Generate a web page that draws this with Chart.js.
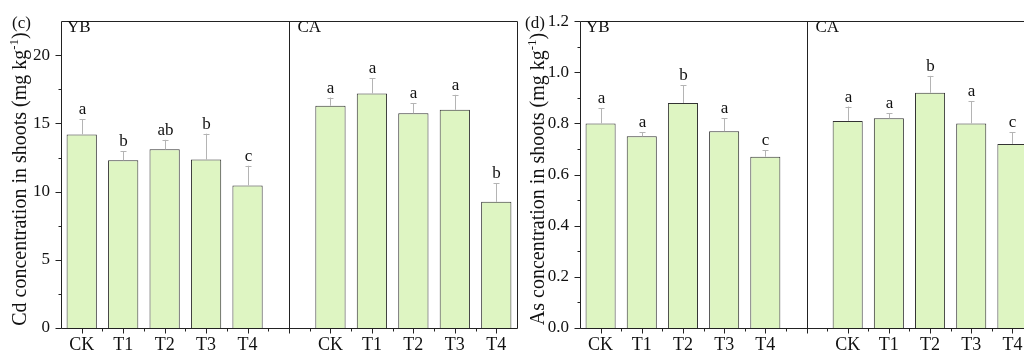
<!DOCTYPE html>
<html>
<head>
<meta charset="utf-8">
<script src="https://cdn.jsdelivr.net/npm/chart.js@4"></script>
<style>
  html, body { margin: 0; padding: 0; background: #fff; overflow: hidden; width: 1024px; height: 354px; }
  #wrapC { position: absolute; left: 0; top: 0; }
  #wrapD { position: absolute; left: 520px; top: 0; }
</style>
</head>
<body>
<div id="wrapC"><canvas id="chartC" width="520" height="354"></canvas></div>
<div id="wrapD"><canvas id="chartD" width="530" height="354"></canvas></div>
<script>
const treatments = ["CK", "T1", "T2", "T3", "T4"];
const groups = ["YB", "CA"];

// (c) Cd in shoots
const cdYB = [14.2, 12.3, 13.1, 12.35, 10.45];
const cdYBErr = [1.1, 0.65, 0.7, 1.9, 1.45];
const cdYBLetters = ["a", "b", "ab", "b", "c"];
const cdCA = [16.3, 17.2, 15.75, 16.0, 9.25];
const cdCAErr = [0.6, 1.1, 0.75, 1.1, 1.35];
const cdCALetters = ["a", "a", "a", "a", "b"];
const cdTicks = [0, 5, 10, 15, 20];

// (d) As in shoots
const asYB = [0.8, 0.75, 0.88, 0.77, 0.67];
const asYBErr = [0.06, 0.015, 0.07, 0.05, 0.025];
const asYBLetters = ["a", "a", "b", "a", "c"];
const asCA = [0.81, 0.82, 0.92, 0.8, 0.72];
const asCAErr = [0.056, 0.02, 0.066, 0.087, 0.045];
const asCALetters = ["a", "a", "b", "a", "c"];
const asTicks = [0, 0.2, 0.4, 0.6, 0.8, 1.0, 1.2];

const FONT = "'Liberation Serif', 'Times New Roman', serif";
Chart.defaults.font.family = FONT;
Chart.defaults.color = "#111";

const labels = [...treatments, "", ...treatments];

const panelPlugin = {
  id: "panel",
  afterDatasetsDraw(chart) {
    const p = chart.options.plugins.panel;
    const ctx = chart.ctx;
    const area = chart.chartArea;
    const xs = chart.scales.x;
    const ys = chart.scales.y;
    const vals = chart.data.datasets[0].data;
    const crisp = (v) => Math.round(v) + 0.5;

    ctx.save();
    // error bars + letters
    ctx.lineWidth = 1;
    ctx.font = "17px " + FONT;
    ctx.textAlign = "center";
    ctx.textBaseline = "alphabetic";
    vals.forEach((v, i) => {
      if (v == null) return;
      const px = crisp(xs.getPixelForValue(i));
      const top = ys.getPixelForValue(v + p.errs[i]);
      const base = ys.getPixelForValue(v);
      ctx.strokeStyle = "#b4b4b4";
      ctx.beginPath();
      ctx.moveTo(px, base);
      ctx.lineTo(px, top);
      ctx.moveTo(px - 3, Math.round(top) + 0.5);
      ctx.lineTo(px + 3, Math.round(top) + 0.5);
      ctx.stroke();
      ctx.fillStyle = "#111";
      ctx.fillText(p.letters[i], px, top - 5);
    });

    // frame and divider
    const divX = crisp(xs.getPixelForValue(5));
    const L = crisp(area.left), R = crisp(area.right), T = crisp(area.top), B = crisp(area.bottom);
    ctx.strokeStyle = "#222";
    ctx.beginPath();
    ctx.moveTo(L, T); ctx.lineTo(R, T); ctx.lineTo(R, B); ctx.lineTo(L, B); ctx.closePath();
    ctx.moveTo(divX, T); ctx.lineTo(divX, B);
    // y ticks
    const tv = p.ticks;
    const step = tv[1] - tv[0];
    tv.forEach((t) => {
      const y = crisp(ys.getPixelForValue(t));
      ctx.moveTo(L - 6, y); ctx.lineTo(L, y);
      const m = t + step / 2;
      if (m < ys.max) {
        const ym = crisp(ys.getPixelForValue(m));
        ctx.moveTo(L - 3, ym); ctx.lineTo(L, ym);
      }
    });
    // x ticks
    for (let i = 0; i < labels.length; i++) {
      const x = crisp(xs.getPixelForValue(i));
      ctx.moveTo(x, B); ctx.lineTo(x, B + 5);
      if (i > 0) {
        const xb = crisp((xs.getPixelForValue(i - 1) + xs.getPixelForValue(i)) / 2);
        ctx.moveTo(xb, B); ctx.lineTo(xb, B + 3);
      }
    }
    ctx.stroke();

    // group labels
    ctx.fillStyle = "#111";
    ctx.textAlign = "left";
    ctx.textBaseline = "middle";
    ctx.font = "17px " + FONT;
    ctx.fillText(groups[0], area.left + 6, 28);
    ctx.fillText(groups[1], divX + 8, 28);
    ctx.fillText(p.tag, p.tagX, 24);

    // y title with superscript
    ctx.translate(p.titleX, 179);
    ctx.rotate(-Math.PI / 2);
    const main = p.title;
    ctx.font = "20px " + FONT;
    const w1 = ctx.measureText(main).width;
    const w3 = ctx.measureText(")").width;
    ctx.font = "13px " + FONT;
    const w2 = ctx.measureText("-1").width;
    let x0 = -(w1 + w2 + w3) / 2;
    ctx.font = "20px " + FONT;
    ctx.fillText(main, x0, 0);
    ctx.font = "13px " + FONT;
    ctx.fillText("-1", x0 + w1, -6);
    ctx.font = "20px " + FONT;
    ctx.fillText(")", x0 + w1 + w2, 0);
    ctx.restore();
  },
};

function makePanel(canvasId, yb, ca, errs, letters, ticks, ymax, fmt, cfg) {
  return new Chart(document.getElementById(canvasId), {
    type: "bar",
    data: {
      labels: labels,
      datasets: [
        {
          data: [...yb, null, ...ca],
          backgroundColor: "#def5c2",
          borderColor: "#333",
          borderWidth: 1,
          barPercentage: 0.73,
          categoryPercentage: 1,
        },
      ],
    },
    options: {
      responsive: false,
      animation: false,
      devicePixelRatio: 1,
      layout: { padding: { top: 11, right: cfg.padRight, left: 0, bottom: 0 } },
      plugins: {
        legend: { display: false },
        tooltip: { enabled: false },
        panel: {
          errs: errs,
          letters: letters,
          ticks: ticks,
          tag: cfg.tag,
          tagX: cfg.tagX,
          title: cfg.title,
          titleX: cfg.titleX,
        },
      },
      scales: {
        x: {
          type: "category",
          offset: true,
          grid: { display: false, drawTicks: false },
          border: { display: false },
          ticks: { padding: 6, autoSkip: false, maxRotation: 0, font: { size: 18 }, color: "#111" },
          afterFit: (s) => { s.height = 26; },
        },
        y: {
          min: 0,
          max: ymax,
          grid: { display: false, drawTicks: false },
          border: { display: false },
          afterBuildTicks: (s) => { s.ticks = ticks.map((v) => ({ value: v })); },
          ticks: { padding: 11, font: { size: 17 }, color: "#111", callback: (v) => fmt(v) },
          afterFit: (s) => { s.width = cfg.axisW; },
        },
      },
    },
    plugins: [panelPlugin],
  });
}

const chartC = makePanel(
  "chartC", cdYB, cdCA, [...cdYBErr, 0, ...cdCAErr], [...cdYBLetters, "", ...cdCALetters],
  cdTicks, 22.5, (v) => String(v),
  { padRight: 3, axisW: 61, tag: "(c)", tagX: 12, title: "Cd concentration in shoots (mg kg", titleX: 21 }
);

const chartD = makePanel(
  "chartD", asYB, asCA, [...asYBErr, 0, ...asCAErr], [...asYBLetters, "", ...asCALetters],
  asTicks, 1.2, (v) => v.toFixed(1),
  { padRight: 17, axisW: 60, tag: "(d)", tagX: 5, title: "As concentration in shoots (mg kg", titleX: 19 }
);
</script>
</body>
</html>
